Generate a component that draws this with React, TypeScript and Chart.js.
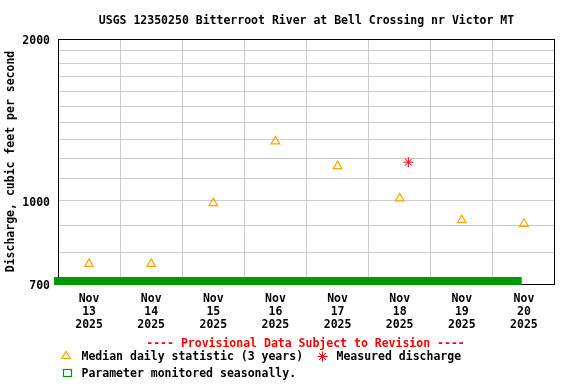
import React, { useEffect, useRef } from 'react';
import { Chart, registerables } from 'chart.js';

Chart.register(...registerables);

const TITLE = 'USGS 12350250 Bitterroot River at Bell Crossing nr Victor MT';
const Y_TITLE = 'Discharge, cubic feet per second';
const PROVISIONAL = '---- Provisional Data Subject to Revision ----';
const LEGEND_MEDIAN = 'Median daily statistic (3 years)';
const LEGEND_MEASURED = 'Measured discharge';
const LEGEND_SEASONAL = 'Parameter monitored seasonally.';
const MONTH = 'Nov';
const YEAR = '2025';

// x values are days of November 2025 (noon = integer day)
const days = [13, 14, 15, 16, 17, 18, 19, 20];
const medianCfs = [763, 763, 990, 1290, 1160, 1010, 920, 906];
const measuredDay = [18.14];
const measuredCfs = [1180];
const seasonalDays = [12.436, 19.964];
const seasonalCfs = [709, 709];

const xMin = 12.5;
const xMax = 20.5;
const dayBoundaries = [13.5, 14.5, 15.5, 16.5, 17.5, 18.5, 19.5];
const yMin = 700;
const yMax = 2000;
const yGridValues = [700, 800, 900, 1000, 1100, 1200, 1300, 1400, 1500, 1600, 1700, 1800, 1900, 2000];
const yLabeled = [700, 1000, 2000];

const FONT_FAMILY = "'DejaVu Sans Mono', 'Liberation Mono', monospace";
const FONT_SIZE = 11.5;
const GRID = '#cccccc';
const ORANGE = '#ffa500';
const RED = '#ff0000';
const GREEN = '#009a00';

const decorPlugin = {
  id: 'decor',
  beforeDatasetsDraw(chart: any) {
    const { ctx, chartArea: a } = chart;
    const l = Math.round(a.left), t = Math.round(a.top), r = Math.round(a.right), b = Math.round(a.bottom);
    ctx.save();
    ctx.strokeStyle = '#000';
    ctx.lineWidth = 1;
    ctx.strokeRect(l + 0.5, t + 0.5, r - l - 1, b - t);
    ctx.restore();
  },
  afterDraw(chart: any) {
    const { ctx, chartArea: a } = chart;
    ctx.save();
    ctx.font = `bold ${FONT_SIZE}px ${FONT_FAMILY}`;
    ctx.textBaseline = 'middle';
    // title
    ctx.fillStyle = '#000';
    ctx.textAlign = 'center';
    ctx.fillText(TITLE, (a.left + a.right) / 2, 21);
    // provisional notice
    ctx.fillStyle = RED;
    ctx.fillText(PROVISIONAL, 305.5, 344);
    // legend texts
    ctx.fillStyle = '#000';
    ctx.textAlign = 'left';
    ctx.fillText(LEGEND_MEDIAN, 81.5, 357.5);
    ctx.fillText(LEGEND_MEASURED, 336.5, 357.5);
    ctx.fillText(LEGEND_SEASONAL, 81.5, 374);
    // legend triangle
    ctx.strokeStyle = ORANGE;
    ctx.lineWidth = 1.2;
    ctx.beginPath();
    ctx.moveTo(66, 351.5);
    ctx.lineTo(70.2, 358.5);
    ctx.lineTo(61.8, 358.5);
    ctx.closePath();
    ctx.stroke();
    // legend star
    const sx = 322.5, sy = 356.5, sr = 5, d = sr * 0.7071;
    ctx.strokeStyle = RED;
    ctx.lineWidth = 1;
    ctx.beginPath();
    ctx.moveTo(sx - sr, sy); ctx.lineTo(sx + sr, sy);
    ctx.moveTo(sx, sy - sr); ctx.lineTo(sx, sy + sr);
    ctx.moveTo(sx - d, sy - d); ctx.lineTo(sx + d, sy + d);
    ctx.moveTo(sx - d, sy + d); ctx.lineTo(sx + d, sy - d);
    ctx.stroke();
    // legend square
    ctx.strokeStyle = GREEN;
    ctx.lineWidth = 1.2;
    ctx.strokeRect(63.5, 369.5, 8, 7);
    ctx.restore();
  },
};

export default function App() {
  const ref = useRef<HTMLCanvasElement | null>(null);

  useEffect(() => {
    if (!ref.current) return;
    const font = { family: FONT_FAMILY, size: FONT_SIZE, weight: 'bold' as const };
    const chart = new Chart(ref.current, {
      type: 'scatter',
      data: {
        datasets: [
          {
            label: LEGEND_MEDIAN,
            data: days.map((d, i) => ({ x: d, y: medianCfs[i] })),
            pointStyle: 'triangle',
            pointRadius: 5,
            pointBorderWidth: 1.2,
            borderColor: ORANGE,
            backgroundColor: 'rgba(0,0,0,0)',
            showLine: false,
          },
          {
            label: LEGEND_MEASURED,
            data: measuredDay.map((d, i) => ({ x: d, y: measuredCfs[i] })),
            pointStyle: 'star',
            pointRadius: 5,
            pointBorderWidth: 1,
            borderColor: RED,
            backgroundColor: RED,
            showLine: false,
          },
          {
            label: LEGEND_SEASONAL,
            data: seasonalDays.map((d, i) => ({ x: d, y: seasonalCfs[i] })),
            showLine: true,
            borderColor: GREEN,
            backgroundColor: GREEN,
            borderWidth: 8,
            borderCapStyle: 'butt',
            pointRadius: 0,
            clip: false as any,
          } as any,
        ],
      },
      options: {
        responsive: false,
        animation: false,
        devicePixelRatio: 1,
        layout: { padding: { top: 39, bottom: 53, left: 0, right: 21 } },
        plugins: {
          legend: { display: false },
          title: { display: false },
          tooltip: { enabled: false },
        },
        scales: {
          x: {
            type: 'linear',
            position: 'bottom',
            min: xMin,
            max: xMax,
            afterBuildTicks: (s: any) => { s.ticks = days.map((v) => ({ value: v })); },
            afterFit: (s: any) => { s.height = 47; },
            grid: { display: false, drawTicks: false },
            border: { display: false },
            ticks: {
              autoSkip: false,
              maxRotation: 0,
              minRotation: 0,
              padding: 8,
              color: '#000',
              font: { ...font, lineHeight: 1.16 },
              callback: (v: any) => [MONTH, String(v), YEAR],
            },
          },
          xg: {
            type: 'linear',
            position: 'bottom',
            min: xMin,
            max: xMax,
            afterBuildTicks: (s: any) => { s.ticks = dayBoundaries.map((v) => ({ value: v })); },
            afterFit: (s: any) => { s.height = 0; },
            grid: { color: GRID, lineWidth: 1, drawTicks: false },
            border: { display: false },
            ticks: { display: false },
          },
          y: {
            type: 'logarithmic',
            min: yMin,
            max: yMax,
            afterBuildTicks: (s: any) => { s.ticks = yGridValues.map((v) => ({ value: v })); },
            afterFit: (s: any) => { s.width = 58; },
            grid: { color: GRID, lineWidth: 1, drawTicks: false },
            border: { display: false },
            ticks: {
              autoSkip: false,
              padding: 8,
              labelOffset: 2,
              color: '#000',
              font,
              callback: (v: any) => (yLabeled.includes(Number(v)) ? String(v) : ''),
            },
            title: {
              display: true,
              text: Y_TITLE,
              color: '#000',
              font,
              padding: { top: 4, bottom: 0 },
            },
          },
        },
      },
      plugins: [decorPlugin],
    } as any);
    return () => chart.destroy();
  }, []);

  return (
    <canvas
      ref={ref}
      width={576}
      height={384}
      style={{ position: 'absolute', left: 0, top: 0, width: 576, height: 384 }}
    />
  );
}
